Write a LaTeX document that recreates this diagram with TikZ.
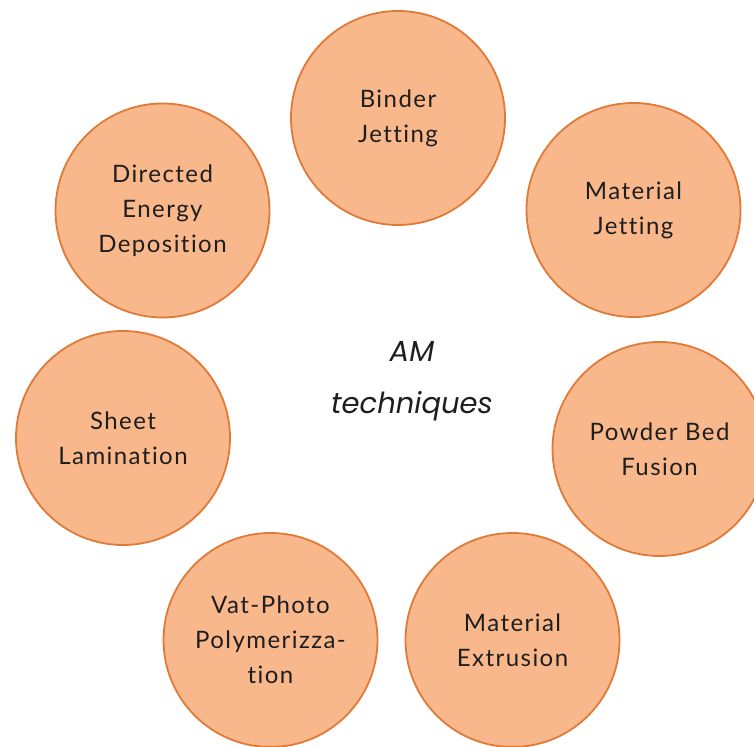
\documentclass[tikz,border=0pt]{standalone}
\usepackage{fontspec}
\setmainfont{Lato}[RawFeature=-liga, LetterSpace=6]
\newfontfamily\titlefont{Poppins}
\definecolor{discfill}{HTML}{F8B88B}
\definecolor{discedge}{HTML}{E07A38}
\definecolor{ink}{HTML}{1E1E1E}
\begin{document}
\begin{tikzpicture}[x=1pt,y=1pt,
  disc/.style={circle, draw=discedge, fill=discfill, line width=1.8pt,
    minimum size=214pt, inner sep=0pt, align=center, text=ink,
    font=\fontsize{24}{35}\selectfont}]
\useasboundingbox (0,0) rectangle (754,746);
% techniques arranged around the centre
\node[disc] (bj)  at (398,628) {Binder\\Jetting};
\node[disc] (mj)  at (633.5,536) {Material\\Jetting};
\node[disc] (pbf) at (659.5,297) {Powder Bed\\Fusion};
\node[disc] (me)  at (512.5,106) {Material\\Extrusion};
\node[disc] (vp)  at (270.5,106) {Vat-Photo\\Polymerizza-\\tion};
\node[disc] (sl)  at (123,308) {Sheet\\Lamination};
\node[disc] (ded) at (162.5,535.5) {Directed\\Energy\\Deposition};
% central label
\node[align=center, text=ink, font=\titlefont\itshape\fontsize{29}{52}\selectfont]
  (am) at (412,365) {AM\\techniques};
\end{tikzpicture}
\end{document}
